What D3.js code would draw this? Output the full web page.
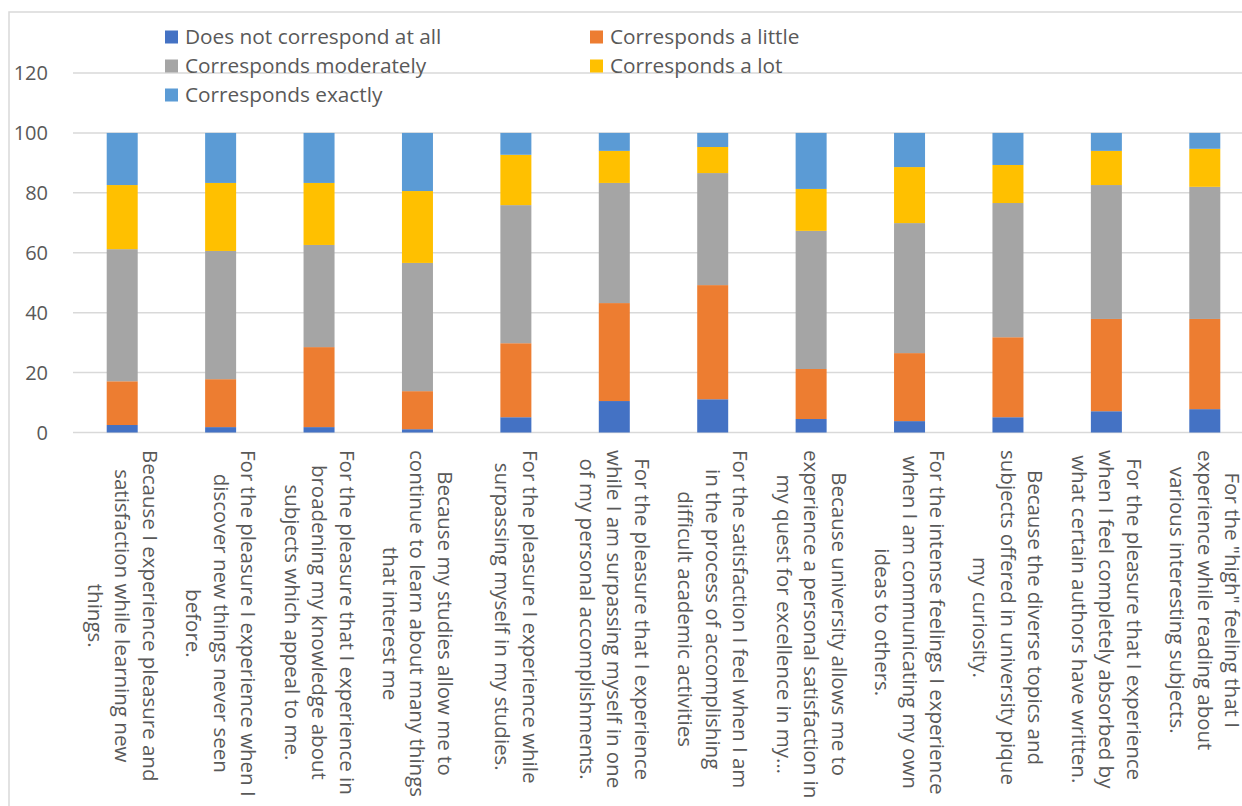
<!DOCTYPE html>
<html>
<head>
<meta charset="utf-8">
<script src="https://cdn.jsdelivr.net/npm/d3@7"></script>
<style>
body { margin: 0; background: #fff; }
svg text { font-family: "Open Sans", sans-serif; fill: #595959; }
</style>
</head>
<body>
<svg id="chart" width="1242" height="806"></svg>
<script>
// categories, each one split into the lines shown under the bars
var categories = [
	['Because I experience pleasure and', 'satisfaction while learning new', 'things.'],
	['For the pleasure I experience when I', 'discover new things never seen', 'before.'],
	['For the pleasure that I experience in', 'broadening my knowledge about', 'subjects which appeal to me.'],
	['Because my studies allow me to', 'continue to learn about many things', 'that interest me'],
	['For the pleasure I experience while', 'surpassing myself in my studies.'],
	['For the pleasure that I experience', 'while I am surpassing myself in one', 'of my personal accomplishments.'],
	['For the satisfaction I feel when I am', 'in the process of accomplishing', 'difficult academic activities'],
	['Because university allows me to', 'experience a personal satisfaction in', 'my quest for excellence in my\u2026'],
	['For the intense feelings I experience', 'when I am communicating my own', 'ideas to others.'],
	['Because the diverse topics and', 'subjects offered in university pique', 'my curiosity.'],
	['For the pleasure that I experience', 'when I feel completely absorbed by', 'what certain authors have written.'],
	['For the "high" feeling that I', 'experience while reading about', 'various interesting subjects.']
]
var seriesNames = ['Does not correspond at all', 'Corresponds a little', 'Corresponds moderately', 'Corresponds a lot', 'Corresponds exactly']
var seriesColors = ['#4472C4', '#ED7D31', '#A5A5A5', '#FFC000', '#5B9BD5']
var notAtAll   = [2.5, 1.8, 1.8, 1.1, 5.1, 10.5, 11.1, 4.5, 3.8, 5.1, 7.1, 7.8]
var aLittle    = [14.6, 16.0, 26.7, 12.7, 24.7, 32.7, 38.1, 16.7, 22.7, 26.7, 30.8, 30.1]
var moderately = [44.1, 42.8, 34.1, 42.8, 46.1, 40.1, 37.4, 46.1, 43.4, 44.8, 44.7, 44.1]
var aLot       = [21.4, 22.7, 20.7, 24.0, 16.8, 10.7, 8.7, 14.0, 18.7, 12.7, 11.4, 12.7]
var exactly    = [17.4, 16.7, 16.7, 19.4, 7.3, 6.0, 4.7, 18.7, 11.4, 10.7, 6.0, 5.3]
var yTicks = [0, 20, 40, 60, 80, 100, 120]

var svg = d3.select('#chart')
var seriesValues = [notAtAll, aLittle, moderately, aLot, exactly]
var rows = categories.map(function(c, i)
{
	var r = {key: i}
	seriesValues.forEach(function(s, j){ r['s' + j] = s[i] })
	return r
})
var keys = seriesNames.map(function(d, j){ return 's' + j })
var stacked = d3.stack().keys(keys)(rows)

var x = d3.scaleBand().domain(d3.range(categories.length)).range([73, 1254]).paddingInner(0.685).paddingOuter(0.3425)
var y = d3.scaleLinear().domain([0, 120]).range([432.5, 73])

// outer chart border
svg.append('rect')
	.attr('x', 9).attr('y', 12).attr('width', 1300).attr('height', 900)
	.attr('fill', 'none').attr('stroke', '#d9d9d9').attr('stroke-width', 1.5)

// gridlines
svg.append('g').selectAll('line').data(yTicks).enter().append('line')
	.attr('x1', 73).attr('x2', 1254)
	.attr('y1', function(d){ return y(d) }).attr('y2', function(d){ return y(d) })
	.attr('stroke', '#d9d9d9').attr('stroke-width', 1.5)

// y tick labels
svg.append('g').selectAll('text').data(yTicks).enter().append('text')
	.attr('x', 48).attr('y', function(d){ return y(d) })
	.attr('dy', '0.35em').attr('text-anchor', 'end')
	.style('font-size', '20px')
	.text(function(d){ return d })

// bars
svg.append('g').selectAll('g').data(stacked).enter().append('g')
	.attr('fill', function(d, j){ return seriesColors[j] })
	.selectAll('rect').data(function(d){ return d }).enter().append('rect')
	.attr('x', function(d){ return x(d.data.key) })
	.attr('width', x.bandwidth())
	.attr('y', function(d){ return y(d[1]) })
	.attr('height', function(d){ return y(d[0]) - y(d[1]) })

// category labels, rotated, lines centred on the longest one
var lineH = 27.5
var labels = svg.append('g').selectAll('text').data(categories).enter().append('text')
	.style('font-size', '20.5px')
	.attr('text-anchor', 'middle')
labels.each(function(lines, i)
{
	var t = d3.select(this)
	lines.forEach(function(l, k)
	{
		t.append('tspan').attr('x', 0).attr('y', 0).attr('dy', (k * lineH) + 'px').text(l)
	})
	var maxLen = 0
	t.selectAll('tspan').each(function(){ maxLen = Math.max(maxLen, this.getComputedTextLength()) })
	var cx = x(i) + x.bandwidth() / 2 + (lines.length - 1) * lineH / 2 - 7
	t.attr('transform', 'translate(' + cx + ',' + 450 + ') rotate(90) translate(' + (maxLen / 2) + ',0)')
})

// legend
var legendPos = [[165, 37], [590, 37], [165, 66], [590, 66], [165, 95]]
var legend = svg.append('g').selectAll('g').data(seriesNames).enter().append('g')
	.attr('transform', function(d, j){ return 'translate(' + legendPos[j][0] + ',' + legendPos[j][1] + ')' })
legend.append('rect').attr('x', 0).attr('y', -6.5).attr('width', 13).attr('height', 13)
	.attr('fill', function(d, j){ return seriesColors[j] })
legend.append('text').attr('x', 20).attr('y', 0).attr('dy', '0.35em')
	.style('font-size', '20.8px')
	.text(function(d){ return d })
</script>
</body>
</html>
